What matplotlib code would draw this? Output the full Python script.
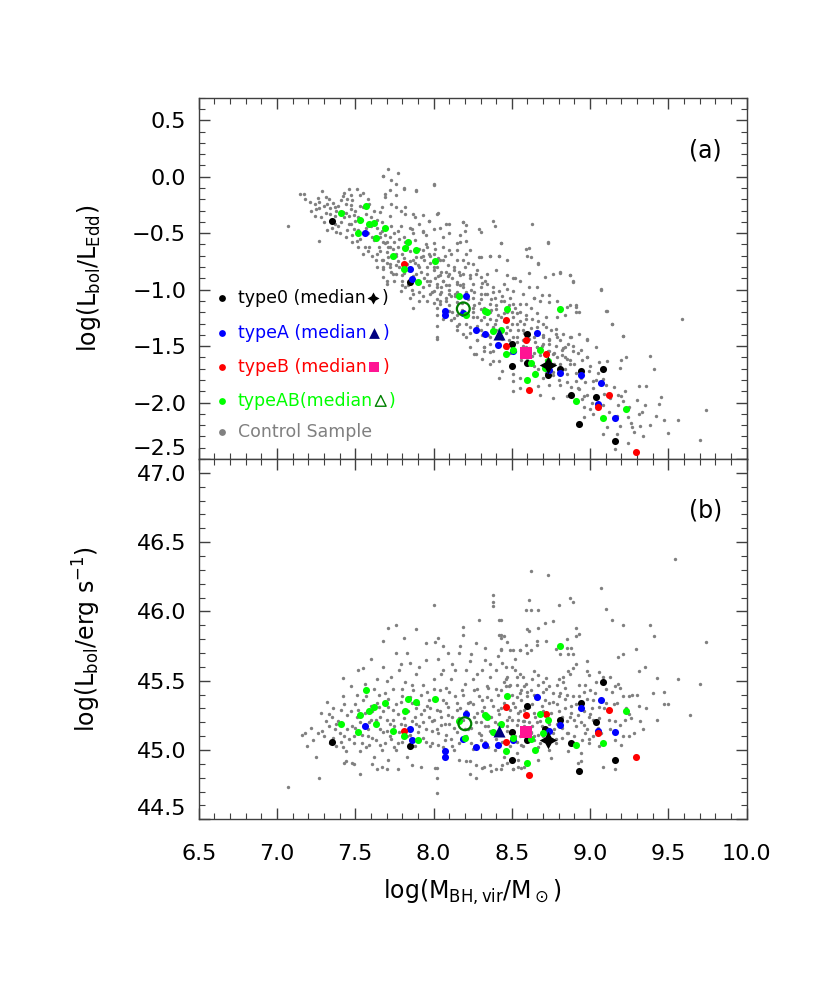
import numpy as np
import matplotlib
matplotlib.use('Agg')
import matplotlib.pyplot as plt
import matplotlib.ticker as ticker

# ── Data ──────────────────────────────────────────────────────────────────────
# (a) log(Lbol/LEdd) vs log(MBH)
t0_a_x = [7.35, 7.85, 8.50, 8.60, 8.50, 8.60, 8.73, 8.81, 8.94, 9.08, 8.88, 9.04, 8.93, 9.16]
t0_a_y = [-0.39, -0.93, -1.48, -1.39, -1.68, -1.65, -1.76, -1.70, -1.72, -1.70, -1.93, -1.95, -2.19, -2.34]
tA_a_x = [7.56, 7.85, 7.86, 8.21, 8.07, 8.07, 8.19, 8.27, 8.33, 8.41, 8.51, 8.66, 8.74, 8.81,
          8.94, 9.07, 9.05, 9.16]
tA_a_y = [-0.50, -0.82, -0.91, -1.06, -1.19, -1.22, -1.21, -1.36, -1.39, -1.49, -1.54, -1.38,
          -1.71, -1.74, -1.76, -1.83, -2.01, -2.14]
tB_a_x = [7.81, 8.46, 8.46, 8.59, 8.72, 8.61, 9.12, 9.05, 9.29]
tB_a_y = [-0.77, -1.27, -1.50, -1.45, -1.57, -1.89, -1.93, -2.04, -2.44]
tAB_a_x = [7.41, 7.57, 7.53, 7.59, 7.62, 7.52, 7.69, 7.63, 7.84, 7.82, 7.89, 7.74, 8.01, 7.81,
           7.90, 8.16, 8.21, 8.33, 8.34, 8.47, 8.38, 8.43, 8.46, 8.51, 8.68, 8.81, 8.62, 8.60,
           8.65, 8.71, 8.73, 8.91, 9.23, 9.08]
tAB_a_y = [-0.32, -0.26, -0.38, -0.42, -0.41, -0.50, -0.45, -0.54, -0.58, -0.63, -0.65, -0.70,
           -0.75, -0.82, -0.93, -1.06, -1.22, -1.19, -1.20, -1.17, -1.37, -1.36, -1.57, -1.53,
           -1.53, -1.17, -1.65, -1.80, -1.75, -1.69, -1.63, -1.99, -2.06, -2.14]
med_a = {'t0': (8.73, -1.67), 'tA': (8.42, -1.39), 'tB': (8.59, -1.56), 'tAB': (8.19, -1.17)}

ctrl_a = [
    (7.07, -0.44), (7.15, -0.15), (7.17, -0.15), (7.18, -0.20), (7.24, -0.24), (7.25, -0.29),
    (7.27, -0.22), (7.29, -0.13), (7.30, -0.26), (7.31, -0.32), (7.32, -0.24), (7.34, -0.28),
    (7.34, -0.33), (7.36, -0.23), (7.37, -0.35), (7.37, -0.42), (7.38, -0.30), (7.27, -0.57),
    (7.32, -0.47), (7.38, -0.49), (7.41, -0.40), (7.42, -0.17), (7.43, -0.14), (7.45, -0.20),
    (7.46, -0.11), (7.47, -0.16), (7.48, -0.21), (7.47, -0.29), (7.44, -0.32), (7.49, -0.34),
    (7.51, -0.11), (7.53, -0.16), (7.55, -0.14), (7.58, -0.20), (7.59, -0.24), (7.55, -0.27),
    (7.50, -0.39), (7.47, -0.42), (7.45, -0.47), (7.48, -0.52), (7.53, -0.55), (7.57, -0.45),
    (7.60, -0.36), (7.66, -0.31), (7.68, 0.01), (7.71, 0.07), (7.67, -0.27), (7.73, -0.03),
    (7.76, -0.06), (7.72, -0.12), (7.69, -0.18), (7.76, -0.27), (7.81, -0.11), (7.89, -0.12),
    (8.00, -0.06), (7.82, -0.33), (7.66, -0.50), (7.68, -0.58), (7.72, -0.53), (7.77, -0.48),
    (7.81, -0.53), (7.85, -0.45), (7.88, -0.36), (7.93, -0.48), (7.97, -0.39), (8.02, -0.33),
    (8.04, -0.45), (8.06, -0.53), (8.10, -0.42), (8.19, -0.40), (8.20, -0.48), (7.59, -0.62),
    (7.64, -0.68), (7.68, -0.74), (7.72, -0.80), (7.76, -0.68), (7.76, -0.86), (7.80, -0.92),
    (7.82, -0.98), (7.87, -1.04), (7.89, -0.86), (7.92, -0.71), (7.96, -0.62), (8.00, -0.68),
    (7.96, -0.80), (8.02, -0.80), (8.06, -0.74), (8.10, -0.65), (8.15, -0.59), (8.10, -0.86),
    (8.06, -0.92), (8.02, -0.98), (7.98, -1.04), (7.96, -1.10), (8.04, -1.10), (8.10, -1.04),
    (8.15, -0.95), (8.19, -0.86), (8.22, -0.76), (8.10, -1.19), (8.15, -1.22), (8.02, -1.22),
    (7.55, -0.68), (7.52, -0.62), (7.64, -0.80), (7.70, -0.92),
    (7.77, 0.03), (7.68, 0.01), (8.00, -0.07), (7.81, -0.10), (7.89, -0.13), (7.76, -0.16),
    (7.69, -0.15), (7.73, -0.24), (7.79, -0.30), (7.82, -0.27), (7.87, -0.33), (7.93, -0.34),
    (8.03, -0.32), (7.97, -0.39), (7.91, -0.42), (7.86, -0.46), (7.93, -0.49), (8.00, -0.46),
    (8.08, -0.42), (8.10, -0.50), (8.17, -0.52), (8.19, -0.40), (8.21, -0.43), (8.29, -0.46),
    (8.30, -0.49), (8.38, -0.39), (8.39, -0.44), (8.23, -0.65), (8.17, -0.58), (8.06, -0.62),
    (8.00, -0.59), (7.93, -0.65), (7.89, -0.71), (7.98, -0.70), (8.04, -0.74), (8.11, -0.68),
    (8.15, -0.74), (8.30, -0.71), (8.36, -0.70), (8.43, -0.59), (8.42, -0.70), (8.47, -0.74),
    (8.20, -0.80), (8.25, -0.77), (8.28, -0.83), (8.23, -0.87), (8.30, -0.89), (8.34, -0.86),
    (8.40, -0.83), (8.47, -0.87), (8.51, -0.90), (8.59, -0.64), (8.62, -0.71), (8.67, -0.76),
    (8.73, -0.58), (8.63, -0.42), (8.55, -0.92), (8.61, -0.98), (8.66, -0.98), (8.71, -0.89),
    (8.76, -0.86), (8.81, -0.84), (8.87, -0.87), (8.89, -0.92), (8.64, -1.07), (8.69, -1.05),
    (8.74, -1.05), (8.79, -1.10), (8.85, -1.15), (8.91, -1.15), (8.93, -1.20), (8.84, -1.22),
    (8.79, -1.24), (8.72, -1.24), (8.66, -1.21), (8.62, -1.16), (8.55, -1.13), (8.51, -1.13),
    (8.53, -1.21), (8.59, -1.26), (8.66, -1.33), (8.72, -1.33), (8.78, -1.35), (8.83, -1.39),
    (8.88, -1.42), (8.93, -1.39), (8.98, -1.45), (9.04, -1.51), (9.07, -0.99), (9.14, -1.30),
    (9.11, -1.19), (9.21, -1.41), (9.23, -1.60), (8.98, -1.60), (8.89, -1.54), (8.82, -1.53),
    (8.76, -1.57), (8.85, -1.61),
    (7.66, -0.53), (7.69, -0.59), (7.72, -0.62), (7.75, -0.58), (7.70, -0.67), (7.76, -0.70),
    (7.67, -0.74), (7.72, -0.77), (7.78, -0.80), (7.74, -0.86), (7.68, -0.89), (7.80, -0.87),
    (7.83, -0.77), (7.87, -0.74), (7.91, -0.80), (7.96, -0.86), (8.00, -0.83), (8.04, -0.87),
    (8.08, -0.84), (8.13, -0.83), (8.17, -0.87), (7.98, -0.92), (8.02, -0.95), (8.06, -0.92),
    (8.10, -0.96), (8.15, -0.93), (8.19, -0.95), (8.25, -0.95), (8.30, -0.98), (8.34, -0.95),
    (8.38, -0.98), (8.42, -1.01), (8.47, -0.99), (7.93, -0.98), (8.00, -1.01), (8.05, -1.02),
    (8.08, -1.07), (8.14, -1.04), (8.21, -1.02), (8.25, -1.07), (8.30, -1.08), (8.34, -1.04),
    (8.39, -1.07), (8.45, -1.10), (8.49, -1.07), (8.02, -1.08), (8.04, -1.13), (8.10, -1.14),
    (8.15, -1.11), (8.25, -1.16), (8.30, -1.17), (8.36, -1.13), (8.40, -1.17), (8.45, -1.21),
    (8.50, -1.20), (8.25, -1.24), (8.30, -1.27), (8.36, -1.26), (8.40, -1.27), (8.23, -1.33),
    (8.30, -1.36), (8.38, -1.33), (8.53, -1.30), (8.57, -1.36), (8.47, -1.33), (8.51, -1.42),
    (8.57, -1.45), (8.64, -1.42), (8.70, -1.42), (8.74, -1.48), (8.66, -1.51), (8.28, -1.45),
    (8.32, -1.51), (8.36, -1.55), (8.21, -1.42), (8.15, -1.36), (8.02, -1.32), (8.02, -1.42),
    (7.91, -1.10), (7.87, -1.16), (7.85, -1.07), (7.79, -1.01), (7.70, -0.95), (7.68, -0.80),
    (8.02, -1.44), (8.27, -1.57), (8.38, -1.63), (8.32, -1.54), (8.36, -1.42),
    (8.21, -0.57), (8.43, -0.59), (8.61, -0.63), (8.73, -0.59), (8.60, -0.70), (8.67, -0.77),
    (8.42, -0.70), (8.36, -0.70), (8.29, -0.71), (8.21, -0.68), (8.15, -0.65), (8.81, -0.85),
    (8.87, -0.87), (8.89, -0.93), (8.61, -0.85), (8.52, -0.90), (8.45, -0.95), (8.51, -1.01),
    (8.57, -1.04), (8.64, -1.07), (8.68, -1.10), (8.59, -1.13), (8.74, -1.11), (8.81, -1.19),
    (8.87, -1.14), (8.91, -1.14), (8.91, -1.20), (9.07, -1.00), (9.10, -1.19), (9.14, -1.30),
    (9.21, -1.41), (9.59, -1.26), (9.38, -1.59), (9.41, -1.70), (9.74, -2.07), (9.70, -2.33),
    (9.56, -2.15), (9.50, -2.27), (9.47, -2.15), (9.44, -2.01), (9.36, -1.85), (9.31, -1.85),
    (9.31, -2.10), (9.34, -2.30), (9.32, -2.21), (9.24, -2.36), (9.27, -2.22), (9.21, -1.99),
    (9.18, -1.93), (9.20, -1.62), (9.19, -1.69), (9.11, -1.63), (9.02, -1.87), (9.02, -1.81),
    (9.08, -1.79), (8.98, -1.44), (8.98, -1.60), (8.94, -1.53), (8.87, -1.42), (8.84, -1.51),
    (8.81, -1.45), (8.78, -1.39), (8.74, -1.45), (8.70, -1.48), (8.74, -1.54), (8.79, -1.60),
    (8.84, -1.60), (8.87, -1.66), (8.81, -1.66), (8.85, -1.75), (8.81, -1.84), (8.74, -1.84),
    (8.67, -1.85), (8.70, -1.78), (8.65, -1.73), (8.76, -1.73), (8.91, -1.81), (8.92, -1.87),
    (8.98, -1.93), (8.96, -2.04), (9.00, -2.06), (9.02, -2.10), (9.08, -2.28), (9.11, -2.22),
    (9.16, -2.41), (9.17, -2.28), (9.19, -2.21), (9.24, -2.13), (9.25, -2.04), (8.51, -1.75),
    (8.55, -1.78), (8.51, -1.90), (8.68, -1.93), (8.76, -1.96), (8.85, -1.94), (8.96, -2.13),
    (8.95, -1.97), (9.04, -1.96), (8.63, -1.59), (8.66, -1.51), (8.59, -1.51), (8.53, -1.42),
    (8.48, -1.45), (8.42, -1.48), (8.38, -1.54), (8.32, -1.51), (8.28, -1.45), (8.23, -1.51),
    (8.19, -1.39), (8.15, -1.32), (8.11, -1.27), (8.26, -1.57), (8.31, -1.61), (8.36, -1.66),
    (8.42, -1.63), (8.44, -1.72), (8.42, -1.78), (8.55, -1.87), (8.51, -1.81),
    (7.22, -0.30), (7.26, -0.19), (7.28, -0.36), (7.33, -0.20), (7.35, -0.45), (7.39, -0.26),
    (7.40, -0.50), (7.43, -0.36), (7.44, -0.24), (7.46, -0.42), (7.48, -0.58), (7.50, -0.30),
    (7.52, -0.47), (7.54, -0.38), (7.56, -0.62), (7.58, -0.50), (7.60, -0.44), (7.61, -0.70),
    (7.62, -0.56), (7.64, -0.38), (7.65, -0.62), (7.67, -0.48), (7.68, -0.82), (7.70, -0.58),
    (7.71, -0.71), (7.73, -0.44), (7.74, -0.64), (7.75, -0.92), (7.77, -0.75), (7.78, -0.55),
    (7.80, -0.68), (7.81, -0.85), (7.83, -0.62), (7.84, -0.96), (7.85, -0.75), (7.87, -0.88),
    (7.88, -0.56), (7.90, -0.78), (7.91, -1.02), (7.93, -0.70), (7.94, -0.90), (7.95, -0.60),
    (7.97, -0.96), (7.98, -0.76), (8.00, -1.12), (8.01, -0.90), (8.03, -0.72), (8.04, -1.04),
    (8.05, -0.84), (8.07, -1.18), (8.08, -0.96), (8.09, -0.78), (8.11, -1.06), (8.12, -0.90),
    (8.13, -1.25), (8.15, -1.02), (8.16, -0.84), (8.18, -1.12), (8.19, -0.98), (8.21, -1.30),
    (8.22, -1.08), (8.23, -0.90), (8.25, -1.20), (8.26, -1.02), (8.28, -1.32), (8.29, -1.12),
    (8.31, -0.94), (8.32, -1.24), (8.33, -1.04), (8.35, -1.40), (8.36, -1.20), (8.37, -1.08),
    (8.39, -1.30), (8.40, -1.14), (8.42, -1.50), (8.43, -1.24), (8.44, -1.06), (8.46, -1.38),
    (8.47, -1.20), (8.49, -1.56), (8.50, -1.30), (8.52, -1.16), (8.53, -1.46), (8.55, -1.28),
    (8.56, -1.62), (8.58, -1.38), (8.59, -1.22), (8.61, -1.52), (8.62, -1.34), (8.64, -1.68),
    (8.65, -1.46), (8.67, -1.28), (8.68, -1.58), (8.70, -1.40), (8.72, -1.74), (8.73, -1.54),
    (8.75, -1.36), (8.77, -1.66), (8.78, -1.50), (8.80, -1.80), (8.82, -1.58), (8.84, -1.70),
    (8.86, -1.48), (8.88, -1.86), (8.90, -1.66), (8.92, -1.56), (8.94, -1.78), (8.96, -1.94),
    (8.99, -1.72), (9.01, -2.00), (9.04, -1.80), (9.06, -1.64), (9.09, -1.92), (9.12, -2.08),
    (9.15, -1.86), (9.18, -2.02), (9.22, -1.90), (9.26, -2.18), (9.30, -1.98), (9.33, -2.08),
    (9.38, -2.20), (9.45, -1.95),
    (7.21, -0.22), (7.24, -0.35), (7.27, -0.28), (7.30, -0.40), (7.31, -0.18), (7.35, -0.38),
    (7.37, -0.27), (7.39, -0.44), (7.41, -0.21), (7.42, -0.31), (7.44, -0.53), (7.46, -0.35),
    (7.47, -0.25), (7.49, -0.46), (7.51, -0.57), (7.52, -0.36), (7.53, -0.26), (7.55, -0.50),
    (7.57, -0.33), (7.58, -0.66), (7.59, -0.42), (7.61, -0.53), (7.62, -0.30), (7.63, -0.74),
    (7.64, -0.45), (7.66, -0.66), (7.67, -0.40), (7.69, -0.52), (7.70, -0.76), (7.71, -0.62),
    (7.72, -0.35), (7.73, -0.84), (7.75, -0.50), (7.76, -0.78), (7.77, -0.62), (7.79, -0.44),
    (7.80, -0.96), (7.81, -0.72), (7.82, -0.58), (7.84, -0.82), (7.85, -0.66), (7.86, -1.00),
    (7.87, -0.50), (7.88, -0.76), (7.89, -0.92), (7.91, -0.64), (7.92, -0.84), (7.93, -1.06),
    (7.94, -0.74), (7.95, -0.52), (7.96, -0.92), (7.97, -0.68), (7.99, -1.02), (8.00, -0.80),
    (8.01, -0.64), (8.02, -1.16), (8.03, -0.88), (8.05, -0.98), (8.06, -1.26), (8.07, -0.70),
    (8.08, -1.10), (8.09, -0.88), (8.10, -1.00), (8.12, -1.20), (8.13, -0.80), (8.14, -1.06),
    (8.16, -1.30), (8.17, -0.96), (8.18, -1.18), (8.19, -0.74), (8.20, -1.06), (8.22, -1.22),
    (8.23, -1.38), (8.24, -1.00), (8.26, -1.14), (8.27, -0.86), (8.28, -1.24), (8.30, -1.04),
    (8.31, -1.40), (8.32, -1.16), (8.33, -0.92), (8.34, -1.30), (8.36, -1.48), (8.37, -1.18),
    (8.38, -1.02), (8.40, -1.36), (8.41, -1.22), (8.43, -1.10), (8.44, -1.44), (8.45, -1.28),
    (8.47, -1.52), (8.48, -1.14), (8.49, -1.36), (8.51, -1.24), (8.52, -1.54), (8.54, -1.36),
    (8.55, -1.20), (8.57, -1.50), (8.58, -1.30), (8.60, -1.62), (8.61, -1.44), (8.63, -1.26),
    (8.64, -1.56), (8.66, -1.38), (8.67, -1.70), (8.69, -1.50), (8.70, -1.30), (8.72, -1.62),
    (8.74, -1.44), (8.76, -1.76), (8.77, -1.56), (8.79, -1.42), (8.81, -1.70), (8.83, -1.52),
    (8.85, -1.82), (8.87, -1.62), (8.89, -1.50), (8.91, -1.74), (8.93, -1.88), (8.95, -1.62),
    (8.97, -1.82), (9.00, -1.68), (9.03, -1.94), (9.05, -1.74), (9.08, -2.02), (9.10, -1.84),
    (9.13, -1.96), (9.17, -2.12), (9.20, -1.94), (9.24, -2.06), (9.28, -2.26), (9.35, -2.02),
    (9.42, -2.12),
]

# (b) log(Lbol) vs log(MBH)
t0_b_x = [7.35, 7.85, 8.50, 8.50, 8.60, 8.60, 8.71, 8.81, 8.88, 8.94, 8.93, 9.08, 9.04, 9.16]
t0_b_y = [45.06, 45.03, 45.13, 44.93, 45.32, 45.07, 45.15, 45.22, 45.05, 45.34, 44.85, 45.49,
          45.20, 44.93]
tA_b_x = [7.56, 7.85, 7.86, 8.21, 8.07, 8.07, 8.19, 8.27, 8.33, 8.41, 8.51, 8.66, 8.74, 8.81,
          8.94, 9.07, 9.05, 9.16]
tA_b_y = [45.17, 45.15, 45.07, 45.26, 44.99, 44.95, 45.08, 45.02, 45.04, 45.04, 45.07, 45.38,
          45.14, 45.18, 45.30, 45.36, 45.14, 45.13]
tB_b_x = [7.81, 8.46, 8.46, 8.59, 8.72, 8.61, 9.12, 9.05, 9.29]
tB_b_y = [45.14, 45.31, 45.06, 45.25, 45.26, 44.82, 45.29, 45.12, 44.95]
tAB_b_x = [7.41, 7.57, 7.53, 7.59, 7.62, 7.52, 7.69, 7.63, 7.84, 7.82, 7.89, 7.74, 8.01, 7.81,
           7.90, 8.16, 8.20, 8.33, 8.34, 8.47, 8.38, 8.43, 8.46, 8.51, 8.68, 8.81, 8.62, 8.60,
           8.65, 8.70, 8.73, 8.91, 9.23, 9.08]
tAB_b_y = [45.19, 45.43, 45.25, 45.28, 45.31, 45.13, 45.34, 45.19, 45.37, 45.28, 45.35, 45.14,
           45.37, 45.10, 45.07, 45.21, 45.09, 45.25, 45.24, 45.39, 45.13, 45.19, 44.99, 45.09,
           45.26, 45.75, 45.08, 44.91, 45.00, 45.12, 45.22, 45.04, 45.28, 45.05]
med_b = {'t0': (8.73, 45.07), 'tA': (8.42, 45.14), 'tB': (8.59, 45.13), 'tAB': (8.20, 45.19)}

ctrl_b = [
    (7.07, 44.73), (7.16, 45.11), (7.18, 45.12), (7.19, 45.03), (7.22, 45.16), (7.23, 45.07),
    (7.25, 44.95), (7.27, 44.80), (7.26, 45.12), (7.28, 45.27), (7.30, 45.10), (7.32, 45.35),
    (7.33, 45.17), (7.35, 45.24), (7.37, 45.15), (7.38, 45.03), (7.39, 45.21), (7.41, 45.29),
    (7.42, 45.39), (7.43, 45.10), (7.44, 44.99), (7.44, 44.92), (7.47, 45.46), (7.48, 45.17),
    (7.49, 45.05), (7.50, 45.33), (7.51, 45.24), (7.53, 44.99), (7.55, 45.59), (7.56, 45.48),
    (7.57, 45.39), (7.58, 45.10), (7.59, 45.04), (7.60, 45.22), (7.62, 44.95), (7.64, 45.51),
    (7.65, 45.31), (7.66, 45.15), (7.67, 45.00), (7.68, 45.60), (7.68, 45.79), (7.69, 45.41),
    (7.70, 45.22), (7.71, 45.88), (7.71, 44.93), (7.72, 45.10), (7.73, 45.53), (7.74, 45.29),
    (7.75, 45.17), (7.76, 45.90), (7.76, 45.70), (7.76, 45.00), (7.78, 45.58), (7.80, 45.39),
    (7.81, 45.81), (7.81, 45.23), (7.82, 45.49), (7.83, 44.95), (7.85, 45.63), (7.86, 45.34),
    (7.87, 45.43), (7.88, 45.24), (7.89, 45.87), (7.89, 45.55), (7.90, 45.07), (7.91, 45.17),
    (7.92, 44.88), (7.93, 45.47), (7.94, 45.29), (7.95, 45.65), (7.97, 45.36), (7.98, 45.03),
    (7.99, 45.21), (8.00, 46.05), (8.00, 45.51), (8.01, 45.78), (8.02, 45.15), (8.02, 44.87),
    (8.02, 44.69), (8.03, 45.81), (8.04, 45.43), (8.05, 45.24), (8.06, 45.75), (8.06, 45.58),
    (8.07, 45.07), (8.08, 45.34), (8.09, 45.70), (8.10, 45.19), (8.11, 45.51), (8.13, 45.00),
    (8.14, 45.58), (8.15, 45.29), (8.16, 44.93), (8.17, 45.75), (8.18, 45.43), (8.19, 45.89),
    (8.19, 45.83), (8.20, 45.15), (8.21, 45.58), (8.22, 45.34), (8.23, 44.92), (8.24, 45.69),
    (8.25, 45.51), (8.26, 45.24), (8.27, 45.77), (8.29, 45.94), (8.29, 45.39), (8.30, 45.07),
    (8.31, 45.58), (8.32, 45.31), (8.33, 45.65), (8.34, 45.46), (8.35, 45.17), (8.36, 45.53),
    (8.37, 45.36), (8.38, 46.12), (8.38, 46.07), (8.38, 46.04), (8.39, 45.00), (8.40, 45.58),
    (8.41, 45.29), (8.42, 45.94), (8.42, 45.83), (8.43, 45.81), (8.43, 45.43), (8.44, 44.89),
    (8.46, 45.51), (8.47, 45.22), (8.49, 45.72), (8.50, 45.60), (8.51, 45.34), (8.53, 45.53),
    (8.54, 44.88), (8.55, 45.72), (8.56, 45.43), (8.57, 45.21), (8.60, 45.87), (8.60, 45.70),
    (7.53, 44.83), (7.49, 44.90), (7.43, 44.91), (7.48, 44.91), (7.61, 44.90), (7.64, 44.86),
    (7.67, 44.88), (7.70, 44.86), (7.77, 44.86), (7.86, 44.89), (8.01, 44.87), (8.02, 44.80),
    (8.21, 44.92), (8.23, 44.83), (8.27, 44.80), (8.27, 44.89), (8.31, 44.87), (8.32, 44.88),
    (8.36, 44.89), (8.37, 44.85), (8.40, 44.86), (8.43, 44.86), (8.47, 44.91), (8.51, 44.86),
    (8.54, 44.93), (8.56, 44.87), (8.94, 44.92),
    (9.54, 46.38), (8.62, 46.29), (8.73, 46.26), (8.61, 46.08), (8.59, 46.01), (8.62, 46.01),
    (8.67, 46.01), (8.87, 46.10), (8.89, 46.07), (8.80, 46.05), (9.07, 46.17), (9.10, 46.02),
    (9.14, 45.94), (9.21, 45.90), (9.38, 45.90), (9.41, 45.82), (9.74, 45.78), (8.71, 45.92),
    (8.76, 45.93), (8.61, 45.86), (8.67, 45.88), (8.91, 45.88), (8.93, 45.84), (8.91, 45.82),
    (8.85, 45.80), (8.43, 45.94), (8.43, 45.83), (8.45, 45.82), (8.43, 45.73), (8.51, 45.72),
    (8.55, 45.72), (8.59, 45.76), (8.62, 45.72), (8.66, 45.79), (8.66, 45.76), (8.72, 45.79),
    (8.78, 45.73), (8.85, 45.74), (8.88, 45.74), (8.81, 45.69), (8.86, 45.69), (8.89, 45.69),
    (8.98, 45.64), (9.18, 45.67), (9.21, 45.69), (9.29, 45.73), (9.35, 45.60), (9.31, 45.57),
    (9.56, 45.51), (9.70, 45.48), (9.64, 45.25), (9.43, 45.52), (9.40, 45.41), (9.47, 45.42),
    (9.47, 45.33), (9.50, 45.33), (9.43, 45.22), (9.34, 45.15), (9.31, 45.32), (9.27, 45.40),
    (9.25, 45.39), (9.21, 45.39), (9.18, 45.48), (9.16, 45.46), (9.19, 45.45), (9.06, 45.56),
    (9.08, 45.53), (9.13, 45.53), (9.04, 45.49), (8.99, 45.54), (8.97, 45.47), (9.00, 45.43),
    (8.91, 45.62), (8.89, 45.59), (8.98, 45.57), (8.87, 45.55), (8.86, 45.57), (8.83, 45.53),
    (8.80, 45.51), (8.83, 45.49), (8.79, 45.47), (8.72, 45.52), (8.70, 45.49), (8.74, 45.46),
    (8.67, 45.54), (8.64, 45.57), (8.63, 45.51), (8.57, 45.53), (8.55, 45.55), (8.52, 45.58),
    (8.47, 45.53), (8.45, 45.49), (8.48, 45.46), (8.53, 45.47), (8.58, 45.46), (8.62, 45.43),
    (8.55, 45.41), (8.60, 45.39), (8.66, 45.40), (8.70, 45.42), (8.76, 45.41), (8.81, 45.41),
    (8.85, 45.40), (8.89, 45.39), (8.93, 45.39), (8.98, 45.37), (9.02, 45.36), (9.06, 45.31),
    (9.10, 45.34), (9.15, 45.33), (8.74, 45.34), (8.79, 45.33), (8.84, 45.30), (8.88, 45.27),
    (8.92, 45.25), (8.96, 45.28), (8.99, 45.24), (9.02, 45.22), (9.06, 45.23), (9.16, 45.21),
    (9.19, 45.18), (9.22, 45.22), (9.26, 45.23), (9.32, 45.21), (9.16, 45.07), (9.20, 45.04),
    (9.25, 45.10), (9.02, 45.10), (9.06, 45.03), (8.99, 45.05), (8.95, 45.07), (8.90, 45.10),
    (8.85, 45.12), (8.82, 45.09), (8.78, 45.05), (8.74, 45.00), (8.68, 45.05), (8.64, 45.07),
    (8.57, 45.03), (8.53, 44.98), (8.49, 45.03), (8.45, 44.95), (8.51, 44.86), (8.58, 44.88),
    (8.67, 44.93), (8.94, 44.98), (8.92, 44.91), (8.86, 44.99), (9.08, 44.88), (9.16, 44.86),
    (8.75, 44.94), (8.47, 45.17), (8.53, 45.18), (8.58, 45.21), (8.63, 45.17), (8.68, 45.21),
    (8.49, 45.29), (8.54, 45.27), (8.64, 45.27), (8.70, 45.28), (8.55, 45.10), (8.62, 45.13),
    (8.67, 45.11), (8.76, 45.12), (8.91, 45.17), (8.98, 45.15), (8.79, 45.19), (8.85, 45.21),
    (8.96, 45.18), (8.43, 45.72), (8.44, 45.63), (8.46, 45.60),
    (7.31, 45.21), (7.34, 45.05), (7.36, 45.30), (7.40, 45.12), (7.42, 45.02), (7.45, 45.25),
    (7.46, 45.08), (7.50, 45.16), (7.52, 45.29), (7.54, 45.11), (7.55, 45.36), (7.57, 45.02),
    (7.59, 45.20), (7.61, 45.28), (7.63, 45.07), (7.64, 45.34), (7.66, 45.24), (7.68, 45.13),
    (7.69, 45.05), (7.71, 45.31), (7.72, 45.19), (7.74, 45.44), (7.75, 45.02), (7.77, 45.26),
    (7.78, 45.13), (7.79, 45.35), (7.80, 45.06), (7.82, 45.18), (7.84, 45.28), (7.85, 45.11),
    (7.86, 45.47), (7.88, 45.03), (7.89, 45.19), (7.90, 45.33), (7.92, 45.26), (7.93, 45.09),
    (7.95, 45.15), (7.96, 45.42), (7.98, 45.30), (7.99, 45.05), (8.00, 45.22), (8.01, 45.37),
    (8.03, 45.12), (8.04, 45.28), (8.06, 45.02), (8.07, 45.19), (8.08, 45.45), (8.09, 45.31),
    (8.11, 45.08), (8.12, 45.24), (8.14, 45.39), (8.15, 45.13), (8.16, 45.05), (8.17, 45.30),
    (8.19, 45.22), (8.20, 45.48), (8.21, 45.10), (8.23, 45.35), (8.24, 45.16), (8.25, 45.01),
    (8.26, 45.43), (8.28, 45.27), (8.29, 45.12), (8.30, 45.20), (8.31, 45.36), (8.33, 45.06),
    (8.34, 45.25), (8.35, 45.45), (8.36, 45.14), (8.38, 45.32), (8.39, 45.20), (8.40, 45.08),
    (8.41, 45.40), (8.42, 45.26), (8.44, 45.17), (8.45, 45.34), (8.46, 45.46), (8.48, 45.24),
    (8.49, 45.12), (8.50, 45.40), (8.52, 45.31), (8.53, 45.06), (8.54, 45.22), (8.56, 45.36),
    (8.57, 45.14), (8.58, 45.29), (8.60, 45.42), (8.61, 45.20), (8.63, 45.33), (8.64, 45.10),
    (8.65, 45.24), (8.67, 45.47), (8.69, 45.17), (8.71, 45.36), (8.73, 45.06), (8.75, 45.27),
    (8.77, 45.15), (8.80, 45.39), (8.82, 45.24), (8.84, 45.45), (8.86, 45.12), (8.88, 45.32),
    (8.90, 45.22), (8.93, 45.47), (8.95, 45.30), (8.97, 45.12), (9.00, 45.26), (9.03, 45.41),
    (9.05, 45.16), (9.09, 45.30), (9.12, 45.22), (9.14, 45.42), (9.23, 45.30), (9.28, 45.12),
    (7.42, 45.52), (7.52, 45.58), (7.60, 45.66), (7.62, 45.44), (7.70, 45.50), (7.79, 45.62),
    (7.83, 45.70), (7.91, 45.60), (7.95, 45.77), (8.03, 45.66), (8.05, 45.55), (8.12, 45.62),
    (8.16, 45.70), (8.23, 45.64), (8.28, 45.55), (8.33, 45.74), (8.36, 45.62), (8.41, 45.68),
    (8.47, 45.78), (8.52, 45.66),
    (7.29, 45.14), (7.33, 45.26), (7.36, 45.09), (7.38, 45.19), (7.41, 45.06), (7.43, 45.33),
    (7.45, 45.15), (7.47, 45.28), (7.49, 45.10), (7.51, 45.40), (7.53, 45.20), (7.54, 45.05),
    (7.56, 45.27), (7.58, 45.15), (7.60, 45.32), (7.61, 45.09), (7.63, 45.22), (7.65, 45.40),
    (7.66, 45.04), (7.68, 45.28), (7.70, 45.14), (7.71, 45.37), (7.73, 45.08), (7.74, 45.22),
    (7.76, 45.33), (7.77, 45.05), (7.79, 45.19), (7.80, 45.44), (7.82, 45.28), (7.83, 45.10),
    (7.85, 45.38), (7.86, 45.21), (7.87, 45.03), (7.89, 45.30), (7.90, 45.13), (7.92, 45.40),
    (7.93, 45.20), (7.95, 45.06), (7.96, 45.32), (7.97, 45.24), (7.99, 45.14), (8.00, 45.44),
    (8.02, 45.29), (8.03, 45.04), (8.05, 45.18), (8.06, 45.36), (8.08, 45.11), (8.09, 45.25),
    (8.10, 45.42), (8.12, 45.03), (8.13, 45.16), (8.15, 45.34), (8.16, 45.23), (8.18, 45.08),
    (8.19, 45.40), (8.21, 45.28), (8.22, 45.15), (8.24, 45.05), (8.25, 45.33), (8.27, 45.20),
    (8.28, 45.44), (8.30, 45.11), (8.31, 45.28), (8.33, 45.17), (8.34, 45.38), (8.35, 45.02),
    (8.37, 45.24), (8.38, 45.12), (8.40, 45.44), (8.41, 45.19), (8.43, 45.30), (8.44, 45.06),
    (8.46, 45.38), (8.47, 45.14), (8.49, 45.47), (8.50, 45.22), (8.52, 45.10), (8.53, 45.38),
    (8.55, 45.28), (8.56, 45.04), (8.58, 45.17), (8.59, 45.48), (8.61, 45.31), (8.62, 45.12),
    (8.64, 45.40), (8.66, 45.20), (8.67, 45.02), (8.69, 45.32), (8.70, 45.10), (8.72, 45.44),
    (8.74, 45.19), (8.76, 45.35), (8.78, 45.08), (8.80, 45.28), (8.82, 45.16), (8.84, 45.37),
    (8.87, 45.24), (8.89, 45.05), (8.91, 45.33), (8.94, 45.20), (8.96, 45.42), (8.99, 45.08),
    (9.01, 45.30), (9.04, 45.20), (9.07, 45.12), (9.10, 45.44), (9.13, 45.15), (9.17, 45.34),
    (9.21, 45.10), (9.25, 45.26), (9.30, 45.40), (9.36, 45.30),
]

legend_rows = [
    ('type0 (median', 'black', 'black'),
    ('typeA (median', '#0000ff', '#000080'),
    ('typeB (median', '#ff0000', '#ff1493'),
    ('typeAB(median', '#00ff00', '#008000'),
]

# ── Style ─────────────────────────────────────────────────────────────────────
plt.rcParams.update({
    'font.family': 'DejaVu Sans',
    'mathtext.default': 'regular',
    'axes.linewidth': 1.0,
    'axes.edgecolor': '#404040',
})

GRAY = '#808080'
TICK_FS = 16
LAB_FS = 17
LEG_FS = 12.5


def fmt_minus(v, pos):
    return '{:.1f}'.format(v).replace('-', '\u2212')


def style_axis(ax):
    ax.xaxis.set_major_locator(ticker.MultipleLocator(0.5))
    ax.xaxis.set_minor_locator(ticker.MultipleLocator(0.1))
    ax.yaxis.set_minor_locator(ticker.MultipleLocator(0.1))
    ax.tick_params(which='both', direction='in', top=True, right=True,
                   colors='#404040', labelcolor='black')
    ax.tick_params(which='major', length=8, width=1.0, labelsize=TICK_FS)
    ax.tick_params(which='minor', length=4, width=0.8)
    ax.tick_params(axis='x', which='major', pad=18)
    ax.tick_params(axis='y', which='major', pad=9)
    ax.yaxis.set_major_formatter(ticker.FuncFormatter(fmt_minus))
    ax.xaxis.set_major_formatter(ticker.FuncFormatter(fmt_minus))
    ax.set_xlim(6.5, 10.0)


def draw_panel(ax, ctrl, t0x, t0y, tAx, tAy, tBx, tBy, tABx, tABy, med):
    cx, cy = np.array(ctrl).T
    ax.scatter(cx, cy, s=6, color=GRAY, linewidths=0, zorder=2)
    ax.scatter(t0x, t0y, s=26, color='black', linewidths=0, zorder=3)
    ax.scatter(tAx, tAy, s=26, color='#0000ff', linewidths=0, zorder=3)
    ax.scatter(tBx, tBy, s=26, color='#ff0000', linewidths=0, zorder=3)
    ax.scatter(tABx, tABy, s=26, color='#00ff00', linewidths=0, zorder=3)
    ax.scatter(*med['tAB'], s=85, facecolors='none', edgecolors='#008000',
               linewidths=1.6, zorder=4)
    ax.scatter(*med['tA'], s=75, marker='^', color='#000080', linewidths=0, zorder=4)
    ax.scatter(*med['tB'], s=80, marker='s', color='#ff1493', linewidths=0, zorder=4)
    ax.scatter(*med['t0'], s=160, marker=(4, 1, 0), color='black', linewidths=0, zorder=5)


fig = plt.figure(figsize=(8.3, 9.88), dpi=100)
L, W = 0.2394, 0.6602
ax1 = fig.add_axes([L, 0.5354, W, 0.3657])
ax2 = fig.add_axes([L, 0.1707, W, 0.3647])

# ── (a) ───────────────────────────────────────────────────────────────────────
draw_panel(ax1, ctrl_a, t0_a_x, t0_a_y, tA_a_x, tA_a_y, tB_a_x, tB_a_y,
           tAB_a_x, tAB_a_y, med_a)
style_axis(ax1)
ax1.set_ylim(-2.5, 0.7)
ax1.set_yticks(np.arange(-2.5, 0.51, 0.5))
ax1.tick_params(axis='x', labelbottom=False)
ax1.set_ylabel(r'log(L$_{\rm bol}$/L$_{\rm Edd}$)', fontsize=LAB_FS)
ax1.yaxis.set_label_coords(-0.174, 0.5)
ax1.yaxis.get_major_ticks()[0].label1.set_verticalalignment('bottom')
ax1.text(0.925, 0.855, '(a)', transform=ax1.transAxes, fontsize=LAB_FS,
         ha='center', va='center')

# legend drawn by hand (text + coloured median symbols)
renderer = fig.canvas.get_renderer()
row_y = [0.446, 0.350, 0.256, 0.161]
sym_kw = [dict(marker=(4, 1, 0), s=75, color='black', linewidths=0),
          dict(marker='^', s=60, color='#000080', linewidths=0),
          dict(marker='s', s=60, color='#ff1493', linewidths=0),
          dict(marker='^', s=60, facecolors='none', edgecolors='#008000', linewidths=1.0)]
inv = ax1.transAxes.inverted()
for (lab, tcol, scol), yy, kw in zip(legend_rows, row_y, sym_kw):
    ax1.scatter(0.042, yy, s=24, color=tcol, linewidths=0, transform=ax1.transAxes)
    t = ax1.text(0.071, yy, lab, color=tcol, fontsize=LEG_FS, va='center', ha='left',
                 transform=ax1.transAxes)
    bb = t.get_window_extent(renderer=renderer)
    xs = inv.transform((bb.x1 + 8, 0))[0]
    xp = inv.transform((bb.x1 + 16, 0))[0]
    ax1.scatter(xs, yy, transform=ax1.transAxes, zorder=5, **kw)
    ax1.text(xp, yy, ')', color=tcol, fontsize=LEG_FS, va='center', ha='left',
             transform=ax1.transAxes)
ax1.scatter(0.042, 0.075, s=24, color=GRAY, linewidths=0, transform=ax1.transAxes)
ax1.text(0.071, 0.075, 'Control Sample', color=GRAY, fontsize=LEG_FS, va='center',
         ha='left', transform=ax1.transAxes)

# ── (b) ───────────────────────────────────────────────────────────────────────
draw_panel(ax2, ctrl_b, t0_b_x, t0_b_y, tA_b_x, tA_b_y, tB_b_x, tB_b_y,
           tAB_b_x, tAB_b_y, med_b)
style_axis(ax2)
ax2.set_ylim(44.5, 47.1)
ax2.set_yticks(np.arange(44.5, 47.01, 0.5))
ax2.set_ylabel(r'log(L$_{\rm bol}$/erg s$^{-1}$)', fontsize=LAB_FS)
ax2.yaxis.set_label_coords(-0.174, 0.5)
ax2.yaxis.get_major_ticks()[0].label1.set_verticalalignment('bottom')
ax2.set_xlabel(r'log(M$_{\rm BH,vir}$/M$_\odot$)', fontsize=LAB_FS)
ax2.xaxis.set_label_coords(0.5, -0.163)
ax2.xaxis.label.set_verticalalignment('top')
ax2.text(0.925, 0.858, '(b)', transform=ax2.transAxes, fontsize=LAB_FS,
         ha='center', va='center')

fig.savefig('out.png', dpi=100, facecolor='white')
